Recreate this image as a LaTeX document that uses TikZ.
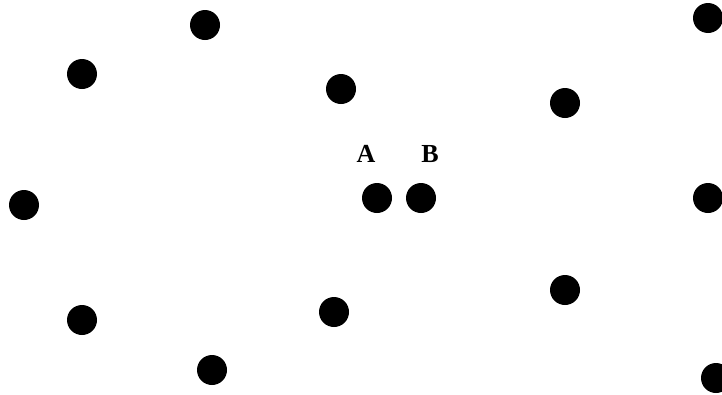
\documentclass[tikz,border=0pt]{standalone}
\usepackage{fontspec}
\setmainfont{Liberation Serif}
\usepackage{tikz}
\usetikzlibrary{positioning}

\begin{document}
\begin{tikzpicture}[
  x=1pt, y=-1pt,
  dot/.style={circle, fill=black, inner sep=0pt, minimum size=30pt},
  lbl/.style={font=\fontsize{26}{30}\selectfont\bfseries, inner sep=0pt}
]
\useasboundingbox (0,0) rectangle (722,394);
\node[dot] (p1) at (205,25) {};
\node[dot] (p2) at (82,74) {};
\node[dot] (p3) at (341,89) {};
\node[dot] (p4) at (565,103) {};
\node[dot] (p5) at (708,18) {};
\node[dot] (p6) at (24,205) {};
\node[dot] (a) at (377,198) {};
\node[dot] (b) at (421,198) {};
\node[dot] (p9) at (708,198) {};
\node[dot] (p10) at (82,320) {};
\node[dot] (p11) at (334,312) {};
\node[dot] (p12) at (565,290) {};
\node[dot] (p13) at (212,370) {};
\node[dot] (p14) at (716,378) {};
\node[lbl] (la) at (366,154) {A};
\node[lbl] (lb) at (430,154) {B};
\end{tikzpicture}
\end{document}
